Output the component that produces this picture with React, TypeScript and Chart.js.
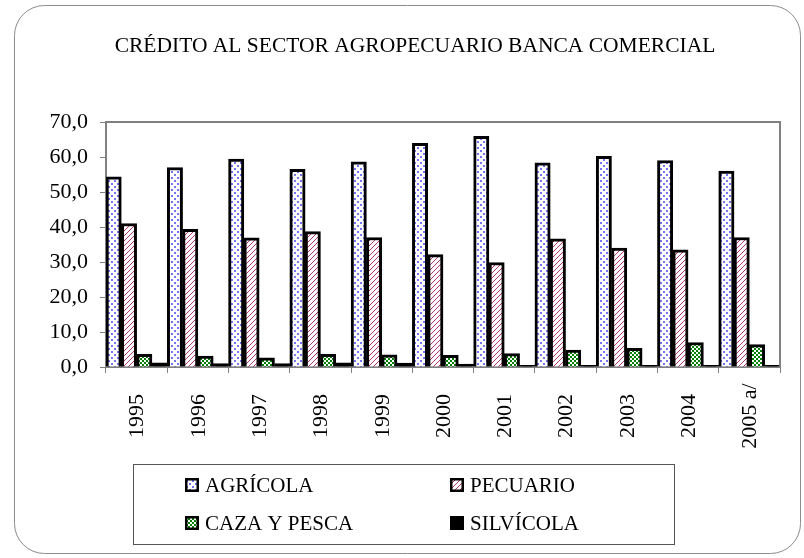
import React, { useEffect, useRef } from "react";
import { Chart, registerables } from "chart.js";

Chart.register(...registerables);

const TITLE = "CRÉDITO AL SECTOR AGROPECUARIO BANCA COMERCIAL";
const categories = ["1995", "1996", "1997", "1998", "1999", "2000", "2001", "2002", "2003", "2004", "2005 a/"];
const agricola = [54.3, 57.0, 59.4, 56.5, 58.6, 63.9, 65.9, 58.3, 60.2, 59.0, 56.0];
const pecuario = [41.0, 39.3, 36.9, 38.7, 37.0, 32.1, 29.8, 36.6, 34.0, 33.5, 37.0];
const cazaPesca = [3.6, 3.1, 2.6, 3.6, 3.5, 3.3, 3.8, 4.8, 5.3, 7.0, 6.4];
const silvicola = [1.2, 1.0, 1.0, 1.2, 1.1, 0.8, 0.5, 0.5, 0.5, 0.5, 0.5];
const seriesNames = ["AGRÍCOLA", "PECUARIO", "CAZA Y PESCA", "SILVÍCOLA"];
const yTicks = { min: 0, max: 70, step: 10 };

const FONT = "'Liberation Serif', 'Times New Roman', serif";

function makePattern(size: number, draw: (c: CanvasRenderingContext2D) => void): CanvasPattern | string {
  const cv = document.createElement("canvas");
  cv.width = size;
  cv.height = size;
  const c = cv.getContext("2d")!;
  draw(c);
  const ctx = document.createElement("canvas").getContext("2d")!;
  return ctx.createPattern(cv, "repeat") || "#888";
}

export default function App() {
  const ref = useRef<HTMLCanvasElement>(null);
  useEffect(() => {
    if (!ref.current) return;
    const pAgr = makePattern(6, (c) => {
      c.fillStyle = "#ffffff";
      c.fillRect(0, 0, 6, 6);
      c.fillStyle = "#7575f5";
      c.fillRect(0, 0, 2, 2);
      c.fillRect(3, 3, 2, 2);
    });
    const pPec = makePattern(5, (c) => {
      c.fillStyle = "#ffffff";
      c.fillRect(0, 0, 5, 5);
      c.fillStyle = "#b8346e";
      for (let k = 0; k < 5; k++) c.fillRect(4 - k, k, 1, 1);
    });
    const pCaza = makePattern(4, (c) => {
      c.fillStyle = "#008000";
      c.fillRect(0, 0, 4, 4);
      c.fillStyle = "#ffffff";
      c.fillRect(0, 0, 2, 2);
      c.fillRect(2, 2, 2, 2);
    });
    const fills: any[] = [pAgr, pPec, pCaza, "#000000"];
    const values = [agricola, pecuario, cazaPesca, silvicola];

    const decor = {
      id: "decor",
      beforeDraw(chart: any) {
        const c = chart.ctx;
        c.save();
        c.fillStyle = "#ffffff";
        c.fillRect(0, 0, chart.width, chart.height);
        c.strokeStyle = "#8c8c8c";
        c.lineWidth = 1;
        c.beginPath();
        (c as any).roundRect(14.5, 5.5, 786, 548, 30);
        c.stroke();
        c.fillStyle = "#000";
        c.font = `21.5px ${FONT}`;
        c.textAlign = "center";
        c.textBaseline = "alphabetic";
        c.fillText(TITLE, 415, 52);
        c.restore();
      },
      afterDraw(chart: any) {
        const c = chart.ctx;
        const a = chart.chartArea;
        c.save();
        c.strokeStyle = "#808080";
        c.lineWidth = 2;
        c.beginPath();
        c.moveTo(a.left, a.top);
        c.lineTo(a.right, a.top);
        c.lineTo(a.right, a.bottom);
        c.stroke();
        const xs = chart.scales.x;
        c.fillStyle = "#000";
        c.font = `22px ${FONT}`;
        c.textAlign = "center";
        c.textBaseline = "middle";
        chart.data.labels.forEach((lab: string, i: number) => {
          const x = xs.getPixelForValue(i);
          c.save();
          c.translate(x, 416);
          c.rotate(-Math.PI / 2);
          c.fillText(lab, 0, 1);
          c.restore();
        });
        c.strokeStyle = "#555";
        c.lineWidth = 1;
        c.strokeRect(133.5, 464.5, 541, 80);
        const pos = [
          [185, 485],
          [450, 485],
          [185, 523],
          [450, 523],
        ];
        c.font = `21px ${FONT}`;
        c.textAlign = "left";
        c.textBaseline = "middle";
        chart.data.datasets.forEach((ds: any, i: number) => {
          const [x, y] = pos[i];
          c.fillStyle = ds.backgroundColor;
          c.fillRect(x, y - 7, 14, 14);
          c.strokeStyle = "#000";
          c.lineWidth = 2.5;
          c.strokeRect(x + 1.25, y - 5.75, 11.5, 11.5);
          c.fillStyle = "#000";
          c.fillText(ds.label, x + 20, y + 1);
        });
        c.restore();
      },
    };

    const chart = new Chart(ref.current, {
      type: "bar",
      data: {
        labels: categories,
        datasets: seriesNames.map((name, i) => ({
          label: name,
          data: values[i],
          backgroundColor: fills[i],
          borderColor: "#000000",
          borderWidth: 3,
          borderSkipped: "bottom",
          categoryPercentage: 1,
          barPercentage: 1,
        })),
      },
      options: {
        responsive: false,
        animation: false,
        events: [],
        layout: { padding: { top: 122, right: 24, left: 0, bottom: 0 } },
        plugins: { legend: { display: false }, title: { display: false }, tooltip: { enabled: false } },
        scales: {
          x: {
            grid: { offset: true, drawOnChartArea: false, drawTicks: true, tickLength: 6, color: "#808080", lineWidth: 1 },
            border: { color: "#808080", width: 2 },
            ticks: { display: false },
            afterFit: (s: any) => {
              s.height = 191;
            },
          },
          y: {
            min: yTicks.min,
            max: yTicks.max,
            grid: { drawOnChartArea: false, drawTicks: true, tickLength: 6, color: "#808080" },
            border: { color: "#808080", width: 2 },
            ticks: {
              stepSize: yTicks.step,
              padding: 12,
              color: "#000",
              font: { family: FONT, size: 22 },
              callback: (v: any) => Number(v).toFixed(1).replace(".", ","),
            },
            afterFit: (s: any) => {
              s.width = 106;
            },
          },
        },
      },
      plugins: [decor],
    });
    if ((document as any).fonts && (document as any).fonts.ready) {
      (document as any).fonts.ready.then(() => {
        try { chart.draw(); } catch (e) {}
      });
    }
    return () => chart.destroy();
  }, []);
  return (
    <div style={{ position: "fixed", left: 0, top: 0, width: 804, height: 558 }}>
      <canvas ref={ref} width={804} height={558} style={{ width: 804, height: 558 }} />
    </div>
  );
}
